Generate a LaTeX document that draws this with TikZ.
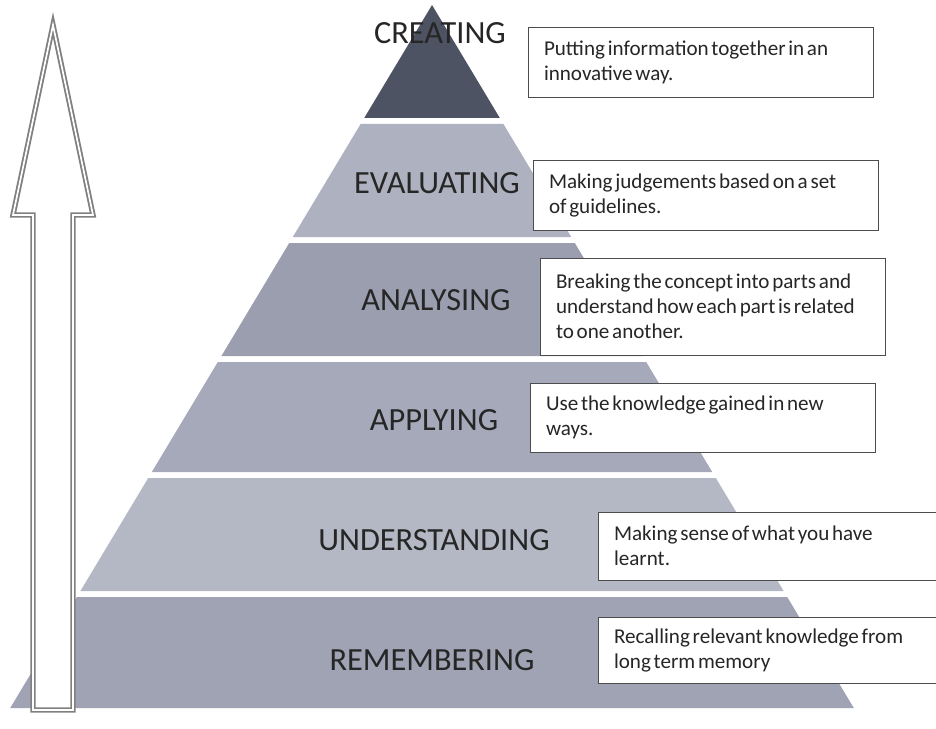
\documentclass[tikz,border=0pt]{standalone}
\usepackage{fontspec}
\setmainfont{Carlito}

\definecolor{peak}{HTML}{4E5364}
\definecolor{tierA}{HTML}{AEB1BF}
\definecolor{tierB}{HTML}{9A9EAF}
\definecolor{tierC}{HTML}{A5A9B9}
\definecolor{tierD}{HTML}{B4B7C4}
\definecolor{tierE}{HTML}{9FA3B3}

\begin{document}
\begin{tikzpicture}[x=0.025cm,y=-0.025cm,every node/.style={outer sep=0pt}]
\tikzstyle{level}=[text=black!85,font=\fontsize{23}{27}\selectfont]
% tight word spacing in the side notes
\tikzstyle{note}=[draw=black!70,fill=white,thin,anchor=north west,align=left,inner xsep=0.4cm,inner ysep=0pt,minimum width=8.625cm,text width=7.825cm,text=black!85,font=\fontsize{15}{17.8}\selectfont,execute at begin node={\spaceskip=0.13em plus 0.02em\relax}]
\tikzstyle{hollow}=[draw=black!50,double=white,double distance=1.2pt,line width=1.3pt,fill=white,line join=miter]

\useasboundingbox (0,0) rectangle (936,729);

% the six tiers, apex down to base
\fill [peak]  (432,5) -- (499.8,118) -- (364.2,118) -- cycle;
\fill [tierA] (360.6,124) -- (503.4,124) -- (571.2,237) -- (292.8,237) -- cycle;
\fill [tierB] (289.2,243) -- (574.8,243) -- (642.6,356) -- (221.4,356) -- cycle;
\fill [tierC] (217.8,362) -- (646.2,362) -- (712.2,472) -- (151.8,472) -- cycle;
\fill [tierD] (148.2,478) -- (715.8,478) -- (783.6,591) -- (80.4,591) -- cycle;
\fill [tierE] (76.8,597) -- (787.2,597) -- (853.8,708) -- (10.2,708) -- cycle;

\node (creating)      [level] at (440,33)  {CREATING};
\node (evaluating)    [level] at (437,183) {EVALUATING};
\node (analysing)     [level] at (436,300) {ANALYSING};
\node (applying)      [level] at (434,420) {APPLYING};
\node (understanding) [level] at (434,540) {UNDERSTANDING};
\node (remembering)   [level] at (432,660) {REMEMBERING};

% upward arrow
\draw [hollow] (33,710) -- (33,215) -- (13,215) -- (53,25) -- (93,215) -- (73,215) -- (73,710) -- cycle;

\node (createnote) [note,minimum height=1.75cm] at (528,27)
  {Putting information together in an\\innovative way.};
\node (evalnote) [note,minimum height=1.75cm] at (533,160)
  {Making judgements based on a set\\of guidelines.};
\node (analysenote) [note,minimum height=2.425cm] at (540,258)
  {Breaking the concept into parts and\\understand how each part is related\\to one another.};
\node (applynote) [note,minimum height=1.725cm] at (530,383)
  {Use the knowledge gained in new\\ways.};
\node (understandnote) [note,minimum height=1.7cm] at (598,512)
  {Making sense of what you have\\learnt.};
\node (remembernote) [note,minimum height=1.65cm] at (598,617)
  {Recalling relevant knowledge from\\long term memory};
\end{tikzpicture}
\end{document}
